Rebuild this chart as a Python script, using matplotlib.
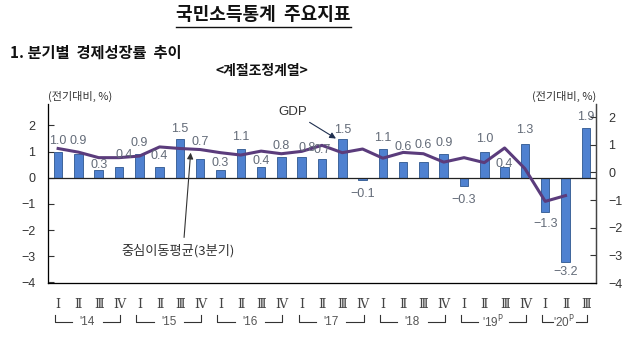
import matplotlib
matplotlib.use("Agg")
import matplotlib.pyplot as plt
from matplotlib.lines import Line2D
from matplotlib.transforms import blended_transform_factory
import numpy as np

plt.rcParams["font.family"] = ["Noto Sans CJK KR", "DejaVu Sans"]

# 분기별 실질 GDP 성장률 (전기대비, %)
years = ["'14", "'15", "'16", "'17", "'18", "'19$^{\\rm P}$", "'20$^{\\rm P}$"]
quarter_names = ["Ⅰ", "Ⅱ", "Ⅲ", "Ⅳ"]
gdp_growth = [1.0, 0.9, 0.3, 0.4,
              0.9, 0.4, 1.5, 0.7,
              0.3, 1.1, 0.4, 0.8,
              0.8, 0.7, 1.5, -0.1,
              1.1, 0.6, 0.6, 0.9,
              -0.3, 1.0, 0.4, 1.3,
              -1.3, -3.2, 1.9]
# 중심이동평균(3분기), 2020년 2분기까지
moving_avg = [1.12, 0.98, 0.77, 0.77,
              0.83, 1.18, 1.12, 1.08,
              0.96, 0.87, 1.02, 0.92,
              1.01, 1.24, 0.96, 1.10,
              0.75, 0.97, 0.92, 0.60,
              0.77, 0.58, 1.14, 0.35,
              -0.90, -0.68]

# 수치 라벨 위치 보정
label_dy = [0.41, 0.51, 0.20, 0.48, 0.43, 0.43, 0.36, 0.67, 0.26, 0.46, 0.23, 0.40, 0.34, 0.35,
            0.32, -0.52, 0.42, 0.58, 0.64, 0.43, -0.53, 0.50, 0.14, 0.52, -0.47, -0.39, 0.43]
label_dx = [0.0] * len(gdp_growth)
label_dx[3] = 0.25
label_dx[12] = 0.25

bar_color = "#4F81D0"
line_color = "#5B3C7C"
text_gray = "#636B78"

x = np.arange(len(gdp_growth))

fig = plt.figure(figsize=(6.38, 3.40), dpi=100)
ax = fig.add_axes([0.0752, 0.1676, 0.8589, 0.5265])

ax.bar(x, gdp_growth, width=0.42, color=bar_color, edgecolor="#2E568F", linewidth=0.6, zorder=2)
ax.axhline(0, color="#222222", linewidth=0.9, zorder=3)
ax.plot(x[:len(moving_avg)], moving_avg, color=line_color, linewidth=2.2, zorder=4,
        solid_joinstyle="round")

for i, v in enumerate(gdp_growth):
    ax.text(i + label_dx[i], v + label_dy[i], f"{v:.1f}".replace("-", "−"),
            ha="center", va="center", fontsize=9, color=text_gray,
            family=["Liberation Sans", "DejaVu Sans"], zorder=5)

ax.set_xlim(-0.5, len(gdp_growth) - 0.5)
ax.set_ylim(-4.02, 2.82)
ax.set_yticks(range(-4, 3))
ax.tick_params(axis="y", direction="in", length=4, width=0.8, pad=9, labelsize=9,
               colors="#333333")
ax.set_xticks(x)
ax.set_xticklabels([quarter_names[i % 4] for i in x], family=["DejaVu Serif", "Noto Sans CJK KR"])
ax.tick_params(axis="x", length=0, pad=11, labelsize=9, colors="#444444")
for lbl in ax.get_yticklabels():
    lbl.set_family(["Liberation Sans", "DejaVu Sans"])

ax.spines["top"].set_visible(False)
for side in ["left", "right", "bottom"]:
    ax.spines[side].set_color("#444444")
    ax.spines[side].set_linewidth(0.9)

# 오른쪽 축
ax2 = ax.twinx()
ax2.set_ylim(-4.0, 2.47)
ax2.set_yticks(range(-4, 3))
ax2.tick_params(axis="y", direction="in", length=4, width=0.8, pad=9, labelsize=9,
                colors="#333333")
for lbl in ax2.get_yticklabels():
    lbl.set_family(["Liberation Sans", "DejaVu Sans"])
ax2.spines["top"].set_visible(False)
ax2.spines["right"].set_color("#444444")
ax2.spines["right"].set_linewidth(0.9)

# 연도 괄호
trans = blended_transform_factory(ax.transData, ax.transAxes)
for k, year in enumerate(years):
    start = 4 * k
    end = min(4 * k + 3, len(gdp_growth) - 1)
    left = start - 0.15
    right = end + 0.05
    mid = (left + right) / 2
    gap = 0.75 if end - start >= 3 else 0.55
    kw = dict(transform=trans, clip_on=False, color="#333333", linewidth=0.8)
    ax.add_line(Line2D([left, left, mid - gap], [-0.178, -0.218, -0.218], **kw))
    ax.add_line(Line2D([mid + gap, right, right], [-0.218, -0.218, -0.178], **kw))
    ax.text(mid, -0.215, year, transform=trans, ha="center", va="center",
            fontsize=8.5, color="#555555", family=["Liberation Sans", "DejaVu Sans"])

# 주석
ax.annotate("GDP", xy=(13.69, 1.5), xytext=(11.57, 2.51), ha="center", va="center",
            fontsize=9.5, color="#333333", family=["Liberation Sans", "DejaVu Sans"],
            arrowprops=dict(arrowstyle="-|>", color="#1F2F4F", lw=0.8, mutation_scale=9,
                            shrinkA=2, shrinkB=0), zorder=6)
ax.annotate("중심이동평균(3분기)", xy=(6.53, 0.96), xytext=(5.9, -2.8), ha="center", va="center",
            fontsize=9.5, color="#333333",
            arrowprops=dict(arrowstyle="-|>", color="#333333", lw=0.8, mutation_scale=9,
                            shrinkA=3, shrinkB=0, relpos=(0.55, 1.0)), zorder=6)

fig.text(0.075, 0.715, "(전기대비, %)", ha="left", va="center", fontsize=8, color="#333333")
fig.text(0.934, 0.715, "(전기대비, %)", ha="right", va="center", fontsize=8, color="#333333")

title = fig.text(0.413, 0.956, "국민소득통계  주요지표", ha="center", va="center",
                 fontsize=13, fontweight="bold", color="#111111")
fig.text(0.016, 0.846, "1. 분기별  경제성장률  추이", ha="left", va="center",
         fontsize=11, fontweight="bold", color="#111111")
fig.text(0.41, 0.791, "<계절조정계열>", ha="center", va="center",
         fontsize=10, fontweight="bold", color="#111111")

# 제목 밑줄
fig.canvas.draw()
bb = title.get_window_extent().transformed(fig.transFigure.inverted())
fig.add_artist(Line2D([bb.x0, bb.x1], [bb.y0 - 0.006, bb.y0 - 0.006], transform=fig.transFigure,
                      color="#111111", linewidth=1.0))

fig.savefig("out.png", dpi=100)
